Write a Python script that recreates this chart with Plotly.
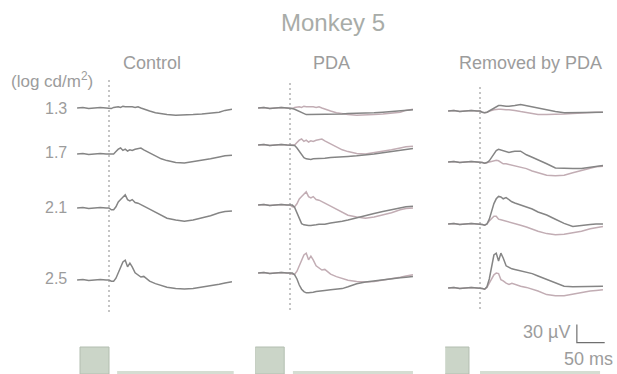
import plotly.graph_objects as go

# ---------------- data ----------------
t_ms = [-55, -45, -35, -25, -15, -5, 0, 4, 8, 12, 16, 20, 24, 28, 32, 36, 40, 45,
        50, 55, 60, 70, 80, 90, 100, 115, 130, 145, 160, 175, 190, 200, 212]
pre = [0, 1, -1, 0, 1, 0]

intensities = ["1.3", "1.7", "2.1", "2.5"]
columns = ["Control", "PDA", "Removed by PDA"]

# Control (µV)
ctrl_13 = pre + [0, -1, 1, 2, 2, 1, 3, 2, 2, 3, 2, 1, 2, 0, -2, -5, -8, -10, -11, -12, -12, -11, -10, -9, -7, -4, -2]
ctrl_17 = pre + [0, -1, 0, 4, 8, 10, 6, 8, 5, 7, 6, 8, 9, 10, 7, 2, -4, -8, -11, -14, -15, -13, -10, -8, -5, -3, -2]
ctrl_21 = pre + [0, -3, -3, 2, 10, 14, 18, 22, 14, 12, 14, 9, 8, 6, 3, -2, -7, -12, -17, -20, -22, -20, -17, -13, -8, -6, -5]
ctrl_25 = pre + [0, -2, -2, 3, 12, 22, 30, 33, 22, 28, 22, 12, 8, 5, 6, -2, -6, -9, -12, -14, -15, -14, -12, -10, -7, -5, -3]

# PDA (µV)
pda_13 = pre + [0, -1, -2, -4, -6, -8, -10, -11, -11, -11, -11, -11, -11, -10, -10, -10, -10, -10, -9, -9, -8, -8, -7, -6, -5, -4, -3]
pda_17 = pre + [0, 0, -1, -5, -11, -17, -21, -23, -24, -24, -23, -23, -22, -22, -22, -21, -20, -19, -19, -18, -17, -15, -13, -11, -9, -7, -6]
pda_21 = pre + [0, 0, -4, -14, -24, -31, -33, -34, -34, -34, -33, -33, -32, -32, -32, -30, -29, -27, -25, -21, -18, -14, -11, -8, -5, -3, -2]
pda_25 = pre + [0, 0, -3, -10, -20, -27, -31, -33, -33, -33, -32, -31, -30, -29, -29, -28, -27, -26, -23, -18, -15, -13, -11, -10, -8, -7, -6]

# Removed by PDA: upper (dark) and lower (light) traces (µV)
rem_up_13 = pre + [0, -2, -3, -2, 0, 2, 5, 7, 9, 9, 8, 8, 8, 8, 9, 11, 9, 6, 4, 2, -1, -3, -3, -3, -3, -2, -2]
rem_lo_13 = pre + [0, -2, -3, -2, 0, 1, 2, 3, 3, 3, 2, 2, 2, 2, 1, -1, -3, -5, -6, -6, -6, -5, -4, -3, -3, -2, -2]
rem_up_17 = pre + [0, -1, -2, -1, 2, 8, 14, 19, 21, 20, 18, 17, 16, 17, 18, 18, 12, 8, 4, -3, -10, -11, -11, -11, -9, -7, -6]
rem_lo_17 = pre + [0, -1, -2, -1, 0, 2, 3, 3, 2, -1, -3, -3, -4, -5, -6, -8, -11, -15, -18, -22, -23, -22, -18, -14, -10, -8, -7]
rem_up_21 = pre + [0, -1, -2, 0, 8, 22, 34, 42, 46, 45, 42, 44, 40, 37, 35, 32, 28, 25, 20, 15, 8, 1, -4, -3, -1, 0, 0]
rem_lo_21 = pre + [0, -1, -2, 0, 5, 10, 13, 13, 8, 7, 6, 4, 4, 2, 1, -2, -5, -9, -12, -16, -18, -17, -15, -12, -8, -6, -4]
rem_up_25 = pre + [0, -1, -2, 2, 15, 35, 55, 58, 45, 58, 50, 37, 34, 32, 31, 29, 26, 24, 20, 14, 8, 3, 2, 2, 2, 3, 3]
rem_lo_25 = pre + [0, -1, -2, 1, 8, 16, 22, 25, 24, 14, 12, 8, 6, 8, 6, 3, 1, -2, -5, -11, -13, -13, -10, -7, -5, -4, -3]

# stimulus marker (ms) per column
stim_on = [-50, -60, -67]
stim_off = [0, -10, -19]
stim_line = [(14, 226), (5, 212), (0, 207)]

# scale bar
scale_uv = 30
scale_ms = 50

# ---------------- layout geometry (pixels) ----------------
W, H = 617, 374
PX_MS = 0.58
PX_UV = 0.6
col_x0 = [109, 290, 480]                      # pixel x of flash onset
row_base = [[108, 154, 208, 280],             # control baselines
            [108, 145, 205, 273],             # PDA
            [111, 162, 224, 288]]             # removed
X_RANGE = [-60, 215]
Y_RANGE = [-100, 80]
dash_y = [(80, 312), (80, 310), (85, 309)]

def px_x(p):
    return p / W

def px_y(p):
    return 1 - p / H

DARK = "#858585"
LIGHT = "#c2adb4"
TXT = "#9c9c9c"

series = [
    [ctrl_13, ctrl_17, ctrl_21, ctrl_25],
    [pda_13, pda_17, pda_21, pda_25],
    [rem_up_13, rem_up_17, rem_up_21, rem_up_25],
]
overlay = [
    None,
    [ctrl_13, ctrl_17, ctrl_21, ctrl_25],
    [rem_lo_13, rem_lo_17, rem_lo_21, rem_lo_25],
]

fig = go.Figure()
layout = dict(width=W, height=H, margin=dict(l=0, r=0, t=0, b=0),
              paper_bgcolor="white", plot_bgcolor="rgba(0,0,0,0)",
              showlegend=False, shapes=[], annotations=[])

for c in range(3):
    xname = "xaxis" if c == 0 else f"xaxis{c + 1}"
    xref = "x" if c == 0 else f"x{c + 1}"
    d0 = col_x0[c] + X_RANGE[0] * PX_MS
    d1 = col_x0[c] + X_RANGE[1] * PX_MS
    layout[xname] = dict(domain=[px_x(d0), px_x(d1)], range=X_RANGE, visible=False,
                         anchor="y" if c == 0 else f"y{4 * c + 1}")
    for r in range(4):
        k = 4 * c + r + 1
        yname = "yaxis" if k == 1 else f"yaxis{k}"
        yref = "y" if k == 1 else f"y{k}"
        base = row_base[c][r]
        top = base - Y_RANGE[1] * PX_UV
        bot = base - Y_RANGE[0] * PX_UV
        layout[yname] = dict(domain=[px_y(bot), px_y(top)], range=Y_RANGE,
                             visible=False, anchor=xref)
        if overlay[c] is not None:
            fig.add_trace(go.Scatter(x=t_ms, y=overlay[c][r], mode="lines",
                                     line=dict(color=LIGHT, width=1.5),
                                     xaxis=xref, yaxis=yref, hoverinfo="skip"))
        fig.add_trace(go.Scatter(x=t_ms, y=series[c][r], mode="lines",
                                 line=dict(color=DARK, width=1.5),
                                 xaxis=xref, yaxis=yref, hoverinfo="skip"))

    # flash onset dashed line
    layout["shapes"].append(dict(type="line", xref=xref, yref="paper", x0=0, x1=0,
                                 y0=px_y(dash_y[c][1]), y1=px_y(dash_y[c][0]),
                                 line=dict(color="#8a8a8a", width=1, dash="2px,3px")))
    # stimulus box
    layout["shapes"].append(dict(type="rect", xref=xref, yref="paper",
                                 x0=stim_on[c], x1=stim_off[c],
                                 y0=0, y1=px_y(347),
                                 fillcolor="#cbd5c8", line=dict(color="#b3beb0", width=1)))
    # stimulus baseline strip
    layout["shapes"].append(dict(type="rect", xref=xref, yref="paper",
                                 x0=stim_line[c][0], x1=stim_line[c][1],
                                 y0=0, y1=px_y(371),
                                 fillcolor="#d5ddd2", line=dict(width=0)))
    # column title
    layout["annotations"].append(dict(text=columns[c], xref="paper", yref="paper",
                                      x=px_x([152, 331, 530][c]), y=px_y(63),
                                      showarrow=False, xanchor="center", yanchor="middle",
                                      font=dict(family="Liberation Sans, Arial", size=18, color=TXT)))

# scale bar on removed / 2.5 axes
sx0 = 167
sy0 = -91
fig.add_trace(go.Scatter(x=[sx0, sx0, sx0 + scale_ms], y=[sy0 + scale_uv, sy0, sy0],
                         mode="lines", line=dict(color="#6f6f6f", width=1.2),
                         xaxis="x3", yaxis="y12", hoverinfo="skip"))

ann_font = dict(family="Liberation Sans, Arial", color=TXT)
layout["annotations"] += [
    dict(text="Monkey 5", xref="paper", yref="paper", x=px_x(333), y=px_y(22),
         showarrow=False, xanchor="center", yanchor="middle",
         font=dict(ann_font, size=24, color="#a8aca8")),
    dict(text="(log cd/m<sup>2</sup>)", xref="paper", yref="paper", x=px_x(52), y=px_y(80),
         showarrow=False, xanchor="center", yanchor="middle",
         font=dict(ann_font, size=17)),
    dict(text=f"{scale_uv} µV", xref="paper", yref="paper", x=px_x(572), y=px_y(332),
         showarrow=False, xanchor="right", yanchor="middle",
         font=dict(ann_font, size=18)),
    dict(text=f"{scale_ms} ms", xref="paper", yref="paper", x=px_x(615), y=px_y(359),
         showarrow=False, xanchor="right", yanchor="middle",
         font=dict(ann_font, size=18)),
]
label_y = [108, 152, 207, 278]
for r, lab in enumerate(intensities):
    layout["annotations"].append(dict(text=lab, xref="paper", yref="paper",
                                      x=px_x(69), y=px_y(label_y[r]),
                                      showarrow=False, xanchor="right", yanchor="middle",
                                      font=dict(ann_font, size=16)))

fig.update_layout(**layout)
fig.write_html("out.html")
